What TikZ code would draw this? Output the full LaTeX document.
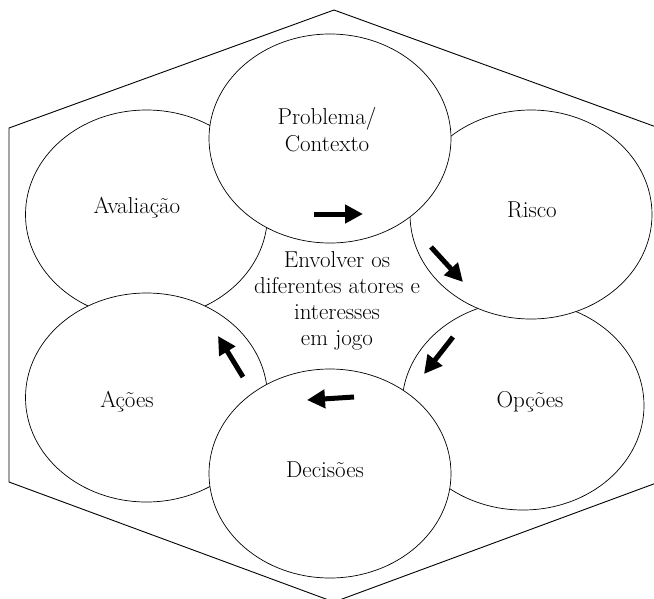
\documentclass[tikz,border=0pt]{standalone}
\usepackage{fontspec}
\usetikzlibrary{shapes.geometric,arrows.meta}
\tikzset{
  blob/.style={ellipse,draw,fill=white,line width=0.7pt,minimum width=242pt,minimum height=209pt,inner sep=0pt},
  word/.style={font=\fontsize{23}{26}\selectfont,align=center},
  flow/.style={line width=5pt,-{Triangle[length=18pt,width=18pt]}},
}
\begin{document}
\begin{tikzpicture}[x=1pt,y=-1pt]
    \useasboundingbox (0,0) rectangle (654,598);
    \draw[line width=0.9pt] (334,10)--(659,128)--(659,482)--(334,602)--(9,482)--(9,128)--cycle;
    \def\blobs{(146.5,214.5),(523,405.5),(531,214.5),(146.5,397.5),(330,138.5),(330,473.5)}
    %          avaliacao     opcoes       risco        acoes         problema     decisoes
    \foreach \b [count=\i from 1] in \blobs {\node[blob] (e\i) at \b {};}
    \node[word,font=\fontsize{23}{27}\selectfont] (t5) at (327,130) {Problema/\\Contexto};
    \node[word] (t3) at (532,210) {Risco};
    \node[word] (t2) at (530,402) {Opções};
    \node[word] (t6) at (325,470) {Decisões};
    \node[word] (t4) at (127,402) {Ações};
    \node[word] (t1) at (137,208) {Avaliação};
    \node[word] (mid) at (337,301) {Envolver os\\diferentes atores e\\interesses\\em jogo};
    % arrow tails s, tips f
    \coordinate (s1) at (314,214); \coordinate (f1) at (363,214);
    \coordinate (s2) at (431,247); \coordinate (f2) at (463,282);
    \coordinate (s3) at (453,337); \coordinate (f3) at (424,374);
    \coordinate (s4) at (354,397); \coordinate (f4) at (307,400);
    \coordinate (s5) at (243,377); \coordinate (f5) at (218,336);
    \foreach \i in {1,...,5} {\draw[flow] (s\i)--(f\i);}
\end{tikzpicture}
\end{document}
